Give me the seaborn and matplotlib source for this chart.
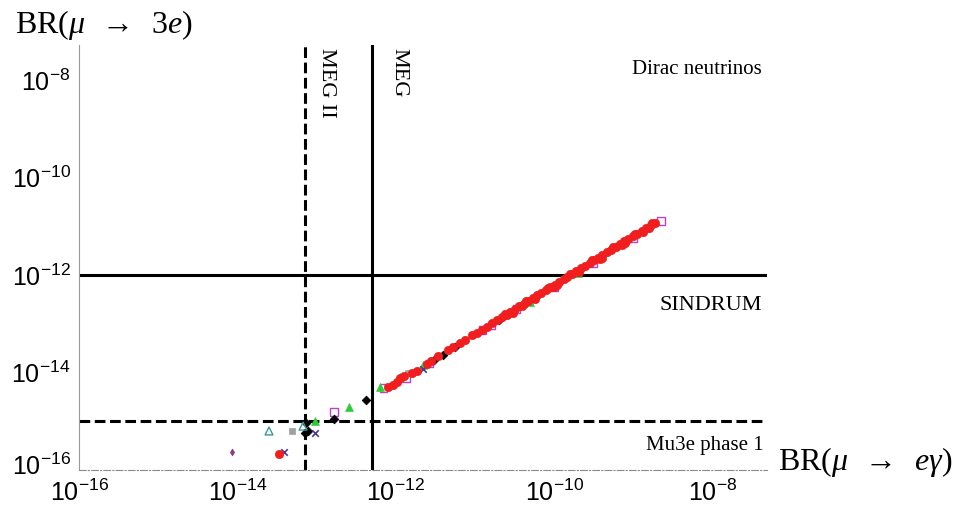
import numpy as np
import pandas as pd
import matplotlib
matplotlib.use("Agg")
import matplotlib.pyplot as plt
from matplotlib.ticker import LogLocator, NullFormatter
from matplotlib.transforms import ScaledTranslation
import seaborn as sns

# log10 BR(mu -> e gamma), log10 BR(mu -> 3e) for each scan point family
red_lx = [-13.47, -12.10, -12.04, -11.98, -11.95, -11.90, -11.80, -11.73, -11.61, -11.55,
          -11.46, -11.34, -11.28, -11.19, -11.13, -11.03, -10.97, -10.91, -10.85, -10.78,
          -10.72, -10.66, -10.60, -10.55, -10.49, -10.44, -10.38, -10.33, -10.27, -10.21,
          -10.16, -10.10, -10.05, -9.99, -9.94, -9.88, -9.83, -9.77, -9.72, -9.66,
          -9.61, -9.55, -9.50, -9.44, -9.39, -9.33, -9.28, -9.22, -9.17, -9.11,
          -9.06, -9.00, -8.95, -8.89, -8.84, -8.78, -8.73,
          -10.40, -10.00, -9.70, -9.40, -9.10, -8.80,
          -10.62, -10.35, -10.08, -9.80, -9.52, -9.25, -8.98, -8.76,
          -10.52, -10.24, -9.96, -9.69, -9.42, -9.14, -8.87]
red_ly = [-15.67, -14.30, -14.25, -14.19, -14.12, -14.08, -14.01, -13.96, -13.82, -13.76,
          -13.66, -13.53, -13.47, -13.39, -13.34, -13.23, -13.18, -13.12, -13.06, -12.99,
          -12.93, -12.87, -12.81, -12.76, -12.70, -12.64, -12.59, -12.53, -12.48, -12.41,
          -12.36, -12.31, -12.25, -12.20, -12.14, -12.09, -12.03, -11.97, -11.92, -11.86,
          -11.81, -11.75, -11.70, -11.64, -11.59, -11.53, -11.48, -11.42, -11.37, -11.31,
          -11.26, -11.20, -11.15, -11.09, -11.04, -10.98, -10.93,
          -12.64, -12.24, -11.94, -11.64, -11.34, -11.04,
          -12.80, -12.53, -12.26, -11.98, -11.70, -11.43, -11.16, -10.94,
          -12.77, -12.49, -12.21, -11.94, -11.67, -11.39, -11.12]

black_lx = [-13.15, -13.11, -13.13, -12.78, -12.38, -11.51, -11.40, -11.25, -10.70]
black_ly = [-15.24, -15.20, -15.04, -14.95, -14.56, -13.74, -13.64, -13.48, -12.92]

green_lx = [-13.02, -12.59, -12.20, -11.95, -11.66, -10.30, -9.70]
green_ly = [-14.99, -14.71, -14.30, -14.09, -13.85, -12.55, -11.95]

magenta_lx = [-12.78, -12.15, -11.87, -11.57, -10.90, -10.79, -10.47, -10.00, -9.50, -9.00, -8.65]
magenta_ly = [-14.81, -14.32, -14.11, -13.81, -13.13, -13.03, -12.70, -12.25, -11.76, -11.25, -10.89]

teal_lx = [-13.60, -13.17]
teal_ly = [-15.20, -15.10]

gray_lx = [-13.31, -11.85]
gray_ly = [-15.20, -14.01]

cross_lx = [-13.41, -13.02, -11.66]
cross_ly = [-15.63, -15.24, -13.93]

dot_lx = [-14.07]
dot_ly = [-15.63]

# experimental bounds
meg_bound = 5.0e-13
megII_bound = 7.1e-14
sindrum_bound = 1.0e-12
mu3e_bound = 1.0e-15

x_ticks = [1e-16, 1e-14, 1e-12, 1e-10, 1e-8]
y_ticks = [1e-16, 1e-14, 1e-12, 1e-10, 1e-8]

sns.set_theme(style="white")
plt.rcParams["font.family"] = ["Liberation Sans", "DejaVu Sans"]
plt.rcParams["text.color"] = "black"
plt.rcParams["mathtext.fontset"] = "custom"
plt.rcParams["mathtext.rm"] = "Liberation Serif"
plt.rcParams["mathtext.it"] = "Liberation Serif:italic"
plt.rcParams["mathtext.bf"] = "Liberation Serif:bold"

W, H = 957, 507
fig = plt.figure(figsize=(W / 100, H / 100), dpi=100)
ax = fig.add_axes([79 / W, 37 / H, (767 - 79) / W, (470 - 45) / H])


def frame(lx, ly):
    return pd.DataFrame({"meg": np.power(10.0, lx), "m3e": np.power(10.0, ly)})


series = [
    (red_lx, red_ly, dict(marker="o", color="#f01e1e", edgecolor="#f01e1e", s=36, linewidth=0.5)),
    (magenta_lx, magenta_ly, dict(marker="s", facecolor="none", edgecolor="#c040c8", s=28, linewidth=1.0)),
    (green_lx, green_ly, dict(marker="^", color="#2ecc3a", edgecolor="#2ecc3a", s=32, linewidth=0.5)),
    (black_lx, black_ly, dict(marker="D", color="black", edgecolor="black", s=20, linewidth=0.5)),
    (teal_lx, teal_ly, dict(marker="^", facecolor="none", edgecolor="#3a9a9a", s=32, linewidth=1.0)),
    (gray_lx, gray_ly, dict(marker="s", color="#a0a0a0", edgecolor="#a0a0a0", s=16, linewidth=0.5)),
    (cross_lx, cross_ly, dict(marker="x", color="#4a3a9a", s=22, linewidth=1.2)),
    (dot_lx, dot_ly, dict(marker="d", color="#8a3a8a", edgecolor="#8a3a8a", s=12, linewidth=0.5)),
]
# red drawn last so it sits on top along the band
for lx, ly, kw in series[1:] + series[:1]:
    sns.scatterplot(data=frame(lx, ly), x="meg", y="m3e", ax=ax, legend=False, zorder=3, **kw)

ax.set_xscale("log")
ax.set_yscale("log")
ax.set_xlim(1e-16, 10 ** -7.31)
ax.set_ylim(1e-16, 10 ** -7.28)

# bounds
ax.axhline(sindrum_bound, color="black", lw=2.2, zorder=2)
ax.axhline(mu3e_bound, color="black", lw=2.2, ls=(0, (3.5, 1.5)), zorder=2)
ax.axvline(meg_bound, color="black", lw=2.2, zorder=2)
ax.axvline(megII_bound, color="black", lw=2.2, ls=(0, (3.5, 1.5)), zorder=2)

# axes styling
for side in ["top", "right"]:
    ax.spines[side].set_visible(False)
ax.spines["left"].set_color("#9a9a9a")
ax.spines["left"].set_linewidth(0.8)
ax.spines["bottom"].set_color("#8a8a8a")
ax.spines["bottom"].set_linewidth(0.8)
ax.spines["bottom"].set_linestyle((0, (6, 2, 1, 2)))

ax.set_xticks(x_ticks)
ax.set_yticks(y_ticks)
for axis in (ax.xaxis, ax.yaxis):
    axis.set_minor_locator(LogLocator(base=10, subs=np.arange(1, 10), numticks=200))
    axis.set_minor_formatter(NullFormatter())
ax.tick_params(which="major", direction="in", length=4, width=0.6, color="#888888",
               labelsize=18, labelcolor="black")
ax.tick_params(axis="y", which="major", pad=6)
ax.tick_params(axis="x", which="major", pad=7)
ax.tick_params(which="minor", direction="in", length=2.5, width=0.5, color="#888888")
ax.set_xlabel("")
ax.set_ylabel("")

# lift the lowest y label a little so it clears the first x label
low = ax.yaxis.get_major_ticks()[0].label1
low.set_transform(low.get_transform() + ScaledTranslation(0, 4 / 72, fig.dpi_scale_trans))


def px(x, y):
    return x / W, 1 - y / H


serif = "Liberation Serif"
fig.text(*px(15, 33), r"BR$(\mu\;\;\rightarrow\;\;3e)$", fontsize=23, family=serif,
         va="baseline", ha="left")
fig.text(*px(778, 470), r"BR$(\mu\;\;\rightarrow\;\;e\gamma)$", fontsize=23, family=serif,
         va="baseline", ha="left")

fig.text(*px(762, 74), "Dirac neutrinos", fontsize=15, family=serif, ha="right", va="baseline")
fig.text(*px(762, 310), "SINDRUM", fontsize=16, family=serif, ha="right", va="baseline")
fig.text(*px(764, 450), "Mu3e phase 1", fontsize=15, family=serif, ha="right", va="baseline")
fig.text(*px(326, 48), "MEG II", fontsize=16, family=serif, rotation=270, ha="center", va="top")
fig.text(*px(399, 48), "MEG", fontsize=16, family=serif, rotation=270, ha="center", va="top")

fig.savefig("out.png", dpi=100)
